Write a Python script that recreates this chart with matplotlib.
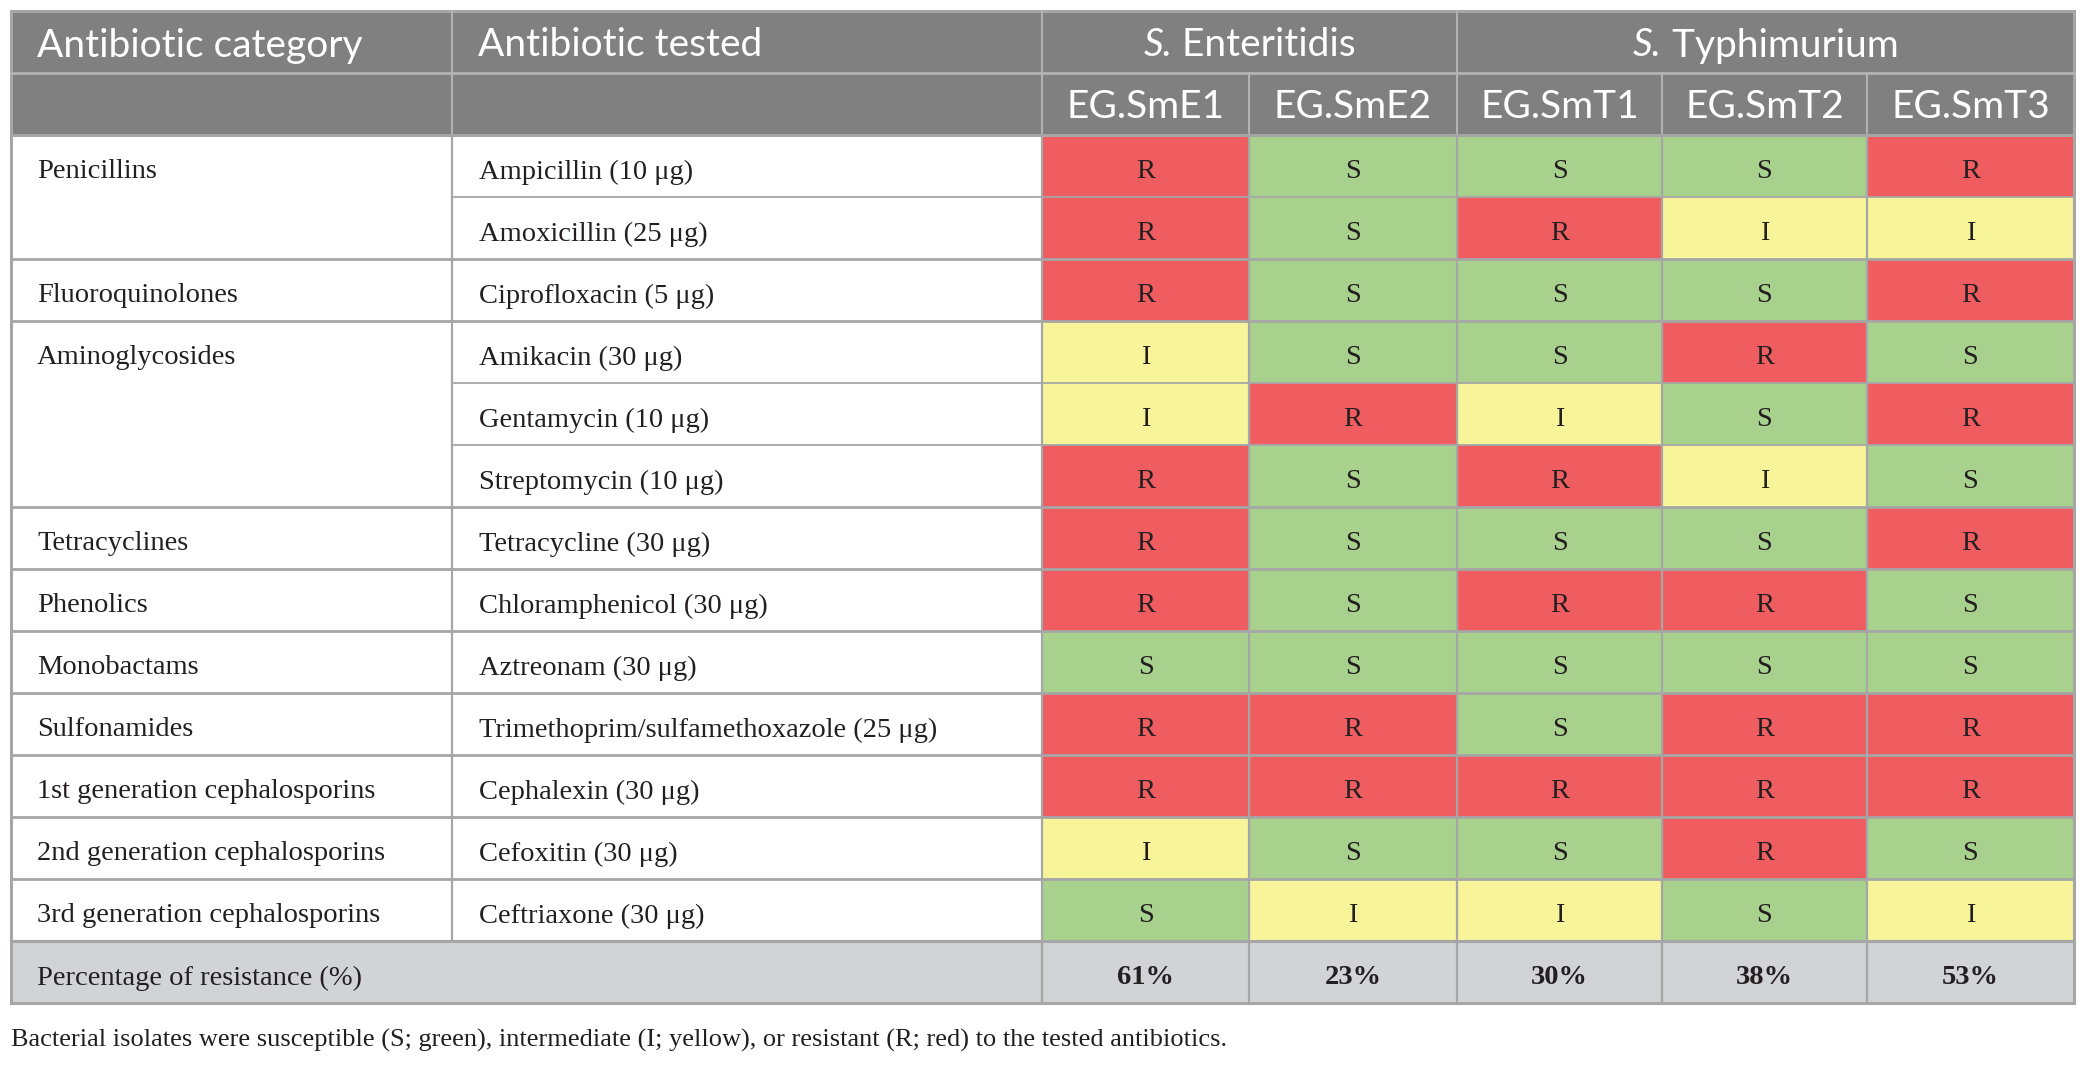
import numpy as np
import matplotlib.pyplot as plt
from matplotlib.patches import Rectangle

# データ
categories = ["Penicillins", "Fluoroquinolones", "Aminoglycosides", "Tetracyclines",
              "Phenolics", "Monobactams", "Sulfonamides", "1st generation cephalosporins",
              "2nd generation cephalosporins", "3rd generation cephalosporins"]
cat_sizes = [2, 1, 3, 1, 1, 1, 1, 1, 1, 1]
antibiotics = ["Ampicillin (10 \u03bcg)", "Amoxicillin (25 \u03bcg)", "Ciprofloxacin (5 \u03bcg)",
               "Amikacin (30 \u03bcg)", "Gentamycin (10 \u03bcg)", "Streptomycin (10 \u03bcg)",
               "Tetracycline (30 \u03bcg)", "Chloramphenicol (30 \u03bcg)", "Aztreonam (30 \u03bcg)",
               "Trimethoprim/sulfamethoxazole (25 \u03bcg)", "Cephalexin (30 \u03bcg)",
               "Cefoxitin (30 \u03bcg)", "Ceftriaxone (30 \u03bcg)"]
isolates = ["EG.SmE1", "EG.SmE2", "EG.SmT1", "EG.SmT2", "EG.SmT3"]
serovars = [("S.", " Enteritidis", 2), ("S.", " Typhimurium", 3)]
results = [
    ["R", "S", "S", "S", "R"],
    ["R", "S", "R", "I", "I"],
    ["R", "S", "S", "S", "R"],
    ["I", "S", "S", "R", "S"],
    ["I", "R", "I", "S", "R"],
    ["R", "S", "R", "I", "S"],
    ["R", "S", "S", "S", "R"],
    ["R", "S", "R", "R", "S"],
    ["S", "S", "S", "S", "S"],
    ["R", "R", "S", "R", "R"],
    ["R", "R", "R", "R", "R"],
    ["I", "S", "S", "R", "S"],
    ["S", "I", "I", "S", "I"],
]
resistance = ["61%", "23%", "30%", "38%", "53%"]
footnote = ("Bacterial isolates were susceptible (S; green), intermediate (I; yellow), "
            "or resistant (R; red) to the tested antibiotics.")

# 色・レイアウト
colors = {"R": "#EF5D60", "S": "#A8D18D", "I": "#F7F49A"}
head_bg = "#808080"
head_line = "#B2B2B2"
line_c = "#A6A6A6"
pct_bg = "#D1D3D4"
txt_c = "#231F20"
col_edges = [11, 452, 1042, 1249, 1457, 1662, 1867, 2074]
top = 11
row_h = 62
head_font = "Lato"
body_font = "Liberation Serif"
head_fs = 28
body_fs = 20.5

fig = plt.figure(figsize=(20.85, 10.65), dpi=100)
ax = fig.add_axes([0, 0, 1, 1])
ax.set_xlim(0, 2085)
ax.set_ylim(1065, 0)
ax.axis("off")

left, right = col_edges[0], col_edges[-1]
n = len(antibiotics)
data_top = top + 2 * row_h
data_bot = data_top + n * row_h
pct_bot = data_bot + row_h

# ヘッダー
ax.add_patch(Rectangle((left, top), right - left, 2 * row_h, color=head_bg, lw=0))
ax.plot([left, right], [top + row_h, top + row_h], color=head_line, lw=2)
for x in [col_edges[1], col_edges[2], col_edges[4]]:
    ax.plot([x, x], [top, top + row_h], color=head_line, lw=1.5)
for x in col_edges[1:-1]:
    ax.plot([x, x], [top + row_h, data_top], color=head_line, lw=1.5)

ax.text(left + 26, top + row_h / 2, "Antibiotic category", color="white",
        family=head_font, fontsize=head_fs, va="center_baseline")
ax.text(col_edges[1] + 26, top + row_h / 2, "Antibiotic tested", color="white",
        family=head_font, fontsize=head_fs, va="center_baseline")

fig.canvas.draw()
renderer = fig.canvas.get_renderer()
c0 = 2
for ital, rest, span in serovars:
    cx = (col_edges[c0] + col_edges[c0 + span]) / 2
    t1 = ax.text(0, 0, ital, family=head_font, fontsize=head_fs, style="italic")
    t2 = ax.text(0, 0, rest, family=head_font, fontsize=head_fs)
    w1 = t1.get_window_extent(renderer).width
    w2 = t2.get_window_extent(renderer).width
    x0 = cx - (w1 + w2) / 2
    t1.set_position((x0, top + row_h / 2))
    t2.set_position((x0 + w1, top + row_h / 2))
    for t in (t1, t2):
        t.set_color("white")
        t.set_va("center_baseline")
    c0 += span

for j, name in enumerate(isolates):
    cx = (col_edges[j + 2] + col_edges[j + 3]) / 2
    ax.text(cx, top + 1.5 * row_h, name, color="white", family=head_font,
            fontsize=head_fs, ha="center", va="center_baseline")

# データ部
ty = row_h / 2 + 3
for i, row in enumerate(results):
    y0 = data_top + i * row_h
    for j, v in enumerate(row):
        x0 = col_edges[j + 2]
        ax.add_patch(Rectangle((x0, y0), col_edges[j + 3] - x0, row_h,
                               color=colors[v], lw=0))
        ax.text((x0 + col_edges[j + 3]) / 2, y0 + ty, v, color=txt_c,
                family=body_font, fontsize=body_fs, ha="center", va="center_baseline")
    ax.text(col_edges[1] + 27, y0 + ty, antibiotics[i], color=txt_c,
            family=body_font, fontsize=body_fs, va="center_baseline")

group_starts = np.cumsum([0] + cat_sizes[:-1])
for k, cat in enumerate(categories):
    y0 = data_top + group_starts[k] * row_h
    ax.text(left + 26, y0 + ty, cat, color=txt_c, family=body_font,
            fontsize=body_fs, va="center_baseline")

# 罫線
for i in range(1, n):
    y = data_top + i * row_h
    if i in group_starts:
        ax.plot([left, right], [y, y], color=line_c, lw=2.0)
    else:
        ax.plot([col_edges[1], right], [y, y], color=line_c, lw=1.3)
for x in col_edges[1:-1]:
    ax.plot([x, x], [data_top, data_bot], color=line_c, lw=1.6)

# 耐性率
ax.add_patch(Rectangle((left, data_bot), right - left, row_h, color=pct_bg, lw=0))
ax.text(left + 26, data_bot + ty, "Percentage of resistance (%)", color=txt_c,
        family=body_font, fontsize=body_fs, va="center_baseline")
for j, p in enumerate(resistance):
    cx = (col_edges[j + 2] + col_edges[j + 3]) / 2
    ax.text(cx, data_bot + ty, p, color=txt_c, family=body_font,
            fontsize=body_fs, weight="bold", ha="center", va="center_baseline")
for x in col_edges[2:-1]:
    ax.plot([x, x], [data_bot, pct_bot], color=line_c, lw=1.6)
ax.plot([left, right], [data_top, data_top], color=line_c, lw=2.2)
ax.plot([left, right], [data_bot, data_bot], color=line_c, lw=2.2)

# 外枠
ax.add_patch(Rectangle((left, top), right - left, pct_bot - top, fill=False,
                       edgecolor=line_c, lw=2.2))

ax.text(left, 1038, footnote, color=txt_c, family=body_font, fontsize=19,
        va="center_baseline")

plt.savefig("out.png", dpi=100)
plt.close()
